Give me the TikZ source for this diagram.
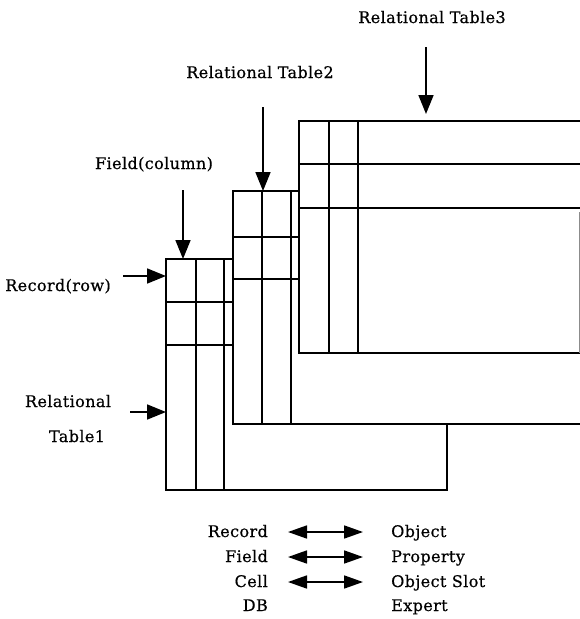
\documentclass[tikz,border=0pt]{standalone}
\usepackage{fontspec}
\setmainfont[LetterSpace=2.5,FakeBold=0.6]{DejaVu Serif}
\usetikzlibrary{arrows.meta}
\begin{document}
\begin{tikzpicture}[x=1pt,y=-1pt,
  grid/.style={line width=1.7pt, line cap=rect},
  faint/.style={line width=0.6pt, draw=black!45},
  lbl/.style={inner sep=0pt, font=\fontsize{16}{19}\selectfont, anchor=base},
  lblr/.style={lbl, anchor=base east},
  lbll/.style={lbl, anchor=base west},
  arr/.style={-{Triangle[length=19pt,width=15pt]}, line width=1.7pt},
  legarr/.style={{Triangle[length=19pt,width=13pt]}-{Triangle[length=19pt,width=13pt]}, line width=1.7pt}]
\useasboundingbox (0,0) rectangle (580,619);

% ---- Table 1 (back) ----
\fill[white] (166,259) rectangle (447,490);
\draw[grid] (166,259) rectangle (447,490);
\draw[grid] (196,259) -- (196,490) (224,259) -- (224,490)
            (166,302) -- (447,302) (166,345) -- (447,345);

% ---- Table 2 (middle) ----
\fill[white] (233,191) rectangle (580,424);
\draw[grid] (580,191) -- (233,191) -- (233,424) -- (580,424);
\draw[grid] (262,191) -- (262,424) (291,191) -- (291,424)
            (233,237) -- (580,237) (233,279) -- (580,279);

% ---- Table 3 (front) ----
\fill[white] (299,121) rectangle (580,353);
\draw[grid] (580,121) -- (299,121) -- (299,353) -- (580,353);
\draw[grid] (329,121) -- (329,353) (358,121) -- (358,353)
            (299,164) -- (580,164) (299,208) -- (580,208);
\draw[faint] (579,212) -- (579,353);

% ---- labels ----
\node[lbl] (t3) at (432,23) {Relational Table3};
\node[lbl] (t2) at (260,78) {Relational Table2};
\node[lbl] (fc) at (154,169) {Field(column)};
\node[lbl] (rr) at (58,291) {Record(row)};
\node[lbl] (t1a) at (68,407) {Relational};
\node[lbl] (t1b) at (77,442) {Table1};

% ---- arrow coordinates ----
\coordinate (t3s) at (426,47);  \coordinate (t3e) at (426,114);
\coordinate (t2s) at (263,107); \coordinate (t2e) at (263,191);
\coordinate (fcs) at (183,190); \coordinate (fce) at (183,259);
\coordinate (rrs) at (123,276); \coordinate (rre) at (166,276);
\coordinate (t1s) at (130,412); \coordinate (t1e) at (166,412);

\draw[arr] (t3s) -- (t3e);
\draw[arr] (t2s) -- (t2e);
\draw[arr] (fcs) -- (fce);
\draw[arr] (rrs) -- (rre);
\draw[arr] (t1s) -- (t1e);

% ---- legend ----
\node[lblr] (lrec) at (268,537) {Record};
\node[lblr] (lfld) at (268,562) {Field};
\node[lblr] (lcel) at (268,587) {Cell};
\node[lblr] (ldb)  at (268,611) {DB};
\node[lbll] (lobj) at (391,537) {Object};
\node[lbll] (lprp) at (391,562) {Property};
\node[lbll] (lslt) at (391,587) {Object Slot};
\node[lbll] (lexp) at (391,611) {Expert};

\coordinate (a1s) at (288,532); \coordinate (a1e) at (363,532);
\coordinate (a2s) at (288,557); \coordinate (a2e) at (363,557);
\coordinate (a3s) at (288,582); \coordinate (a3e) at (363,582);
\draw[legarr] (a1s) -- (a1e);
\draw[legarr] (a2s) -- (a2e);
\draw[legarr] (a3s) -- (a3e);
\end{tikzpicture}
\end{document}
